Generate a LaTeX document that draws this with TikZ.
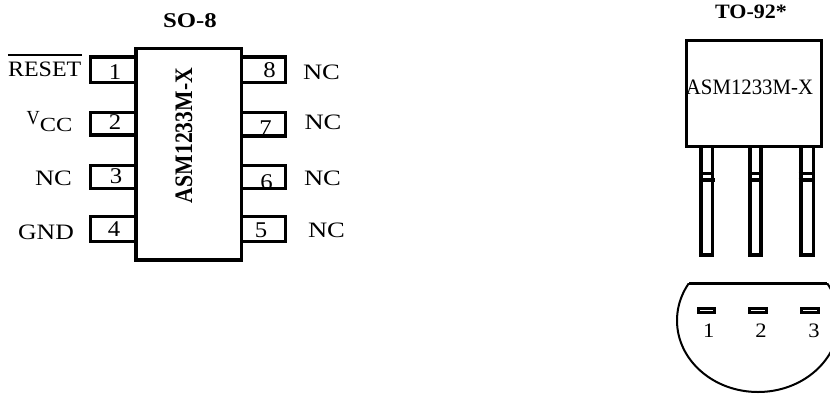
\documentclass[tikz,border=0pt]{standalone}
\usepackage{fontspec}
\setmainfont{Liberation Serif}
\usepackage{graphicx}
\newcommand{\hsx}[2]{\scalebox{#1}[1]{#2}}
\newcommand{\fsz}[1]{\fontsize{#1}{#1}\selectfont}
\begin{document}
\begin{tikzpicture}[x=1pt,y=-1pt,
  body/.style={draw, line width=3.3pt},
  pinbox/.style={draw, line width=3.3pt},
  lead/.style={draw, line width=3.4pt},
  pad/.style={draw, line width=2.7pt},
  txt/.style={inner sep=0pt, anchor=base},
  lbl/.style={txt, font=\fsz{22}},
  num/.style={txt, font=\fsz{22.5}},
  ttl/.style={txt, font=\fsz{21}\bfseries}]
\useasboundingbox (0,0) rectangle (830,394);
% ---------- SO-8 ----------
\node[ttl] (so8) at (190,27) {\hsx{1.18}{SO-8}};
\draw[body] (136,48.3) rectangle (241.7,260);
% left pins
\draw[pinbox] (90.7,57) rectangle (136,82.3);
\draw[pinbox] (90.7,112.5) rectangle (136,135);
\draw[pinbox] (90.7,165.5) rectangle (136,188.5);
\draw[pinbox] (90.7,216.7) rectangle (136,241.7);
% right pins
\draw[pinbox] (241.7,57) rectangle (285.7,82.3);
\draw[pinbox] (241.7,112.5) rectangle (285.7,136);
\draw[pinbox] (241.7,165.5) rectangle (285.7,188.5);
\draw[pinbox] (241.7,216.7) rectangle (285.7,241.7);
% pin numbers
\node[num] (n1) at (115,79) {\hsx{1.1}{1}};
\node[num] (n2) at (115,129) {\hsx{1.1}{2}};
\node[num] (n3) at (116,183) {\hsx{1.1}{3}};
\node[num] (n4) at (114,236) {\hsx{1.1}{4}};
\node[num] (n8) at (269.5,77) {\hsx{1.1}{8}};
\node[num] (n7) at (265.5,135) {\hsx{1.1}{7}};
\node[num] (n6) at (266.5,189) {\hsx{1.1}{6}};
\node[num] (n5) at (261,237.3) {\hsx{1.1}{5}};
% pin labels
\node[lbl, anchor=base east] (reset) at (81.5,76) {\hsx{1.09}{RESET}};
\draw[line width=1.8pt] ([yshift=6.6pt]reset.north west) -- ([yshift=6.6pt]reset.north east);
\node[txt, anchor=base west, font=\fsz{20}] (vcc) at (26.5,124) {\hsx{0.91}{V}\raisebox{-7.7pt}{\hsx{1.22}{CC}}};
\node[lbl] (nc3) at (53.5,185) {\hsx{1.21}{NC}};
\node[lbl] (gnd) at (46,239) {\hsx{1.17}{GND}};
\node[lbl] (nc8) at (321.5,79) {\hsx{1.21}{NC}};
\node[lbl] (nc7) at (323,129) {\hsx{1.21}{NC}};
\node[lbl] (nc6) at (322.5,185) {\hsx{1.21}{NC}};
\node[lbl] (nc5) at (326.5,237) {\hsx{1.21}{NC}};
% chip name
\node[txt, rotate=90] (chip) at (192,135.5) {\scalebox{1}[1.16]{\fsz{21.7}\bfseries ASM1233M-X}};
% ---------- TO-92 ----------
\node[txt, font=\fsz{20.4}\bfseries] (to92) at (751,18) {\hsx{1.08}{TO-92*}};
\draw[body] (686.5,40.5) rectangle (821.5,146.5);
\node[txt, font=\fsz{22}] (chip2) at (749.5,94.3) {\hsx{0.945}{ASM1233M-X}};
% leads
\draw[lead] (700.8,146.5) rectangle (712.3,255);
\draw[lead] (750,146.5) rectangle (761,255);
\draw[lead] (801,146.5) rectangle (813.3,255);
\draw[line width=3.3pt] (699.2,173.3) -- (713,173.3) (699.2,180) -- (715,180);
\draw[line width=3.3pt] (748.3,173.3) -- (763,173.3) (748.3,180) -- (763,180);
\draw[line width=3.3pt] (798.5,173.3) -- (815,173.3) (798.5,180) -- (815,180);
% bottom view
\begin{scope}
  \clip (600,283) rectangle (830,394);
  \draw[line width=2pt] (758,320.5) ellipse [x radius=81, y radius=71.5];
\end{scope}
\draw[line width=3pt] (689,283) -- (827,283);
\draw[pad] (698.3,308.3) rectangle (714.7,312.7);
\draw[pad] (749.3,308.3) rectangle (766.7,312.7);
\draw[pad] (801.3,308.3) rectangle (818.7,312.7);
\node[txt, font=\fsz{20.5}] (b1) at (708.7,337.5) {\hsx{1.1}{1}};
\node[txt, font=\fsz{20.5}] (b2) at (761,337.5) {\hsx{1.1}{2}};
\node[txt, font=\fsz{20.5}] (b3) at (814,337.5) {\hsx{1.1}{3}};
\end{tikzpicture}
\end{document}
